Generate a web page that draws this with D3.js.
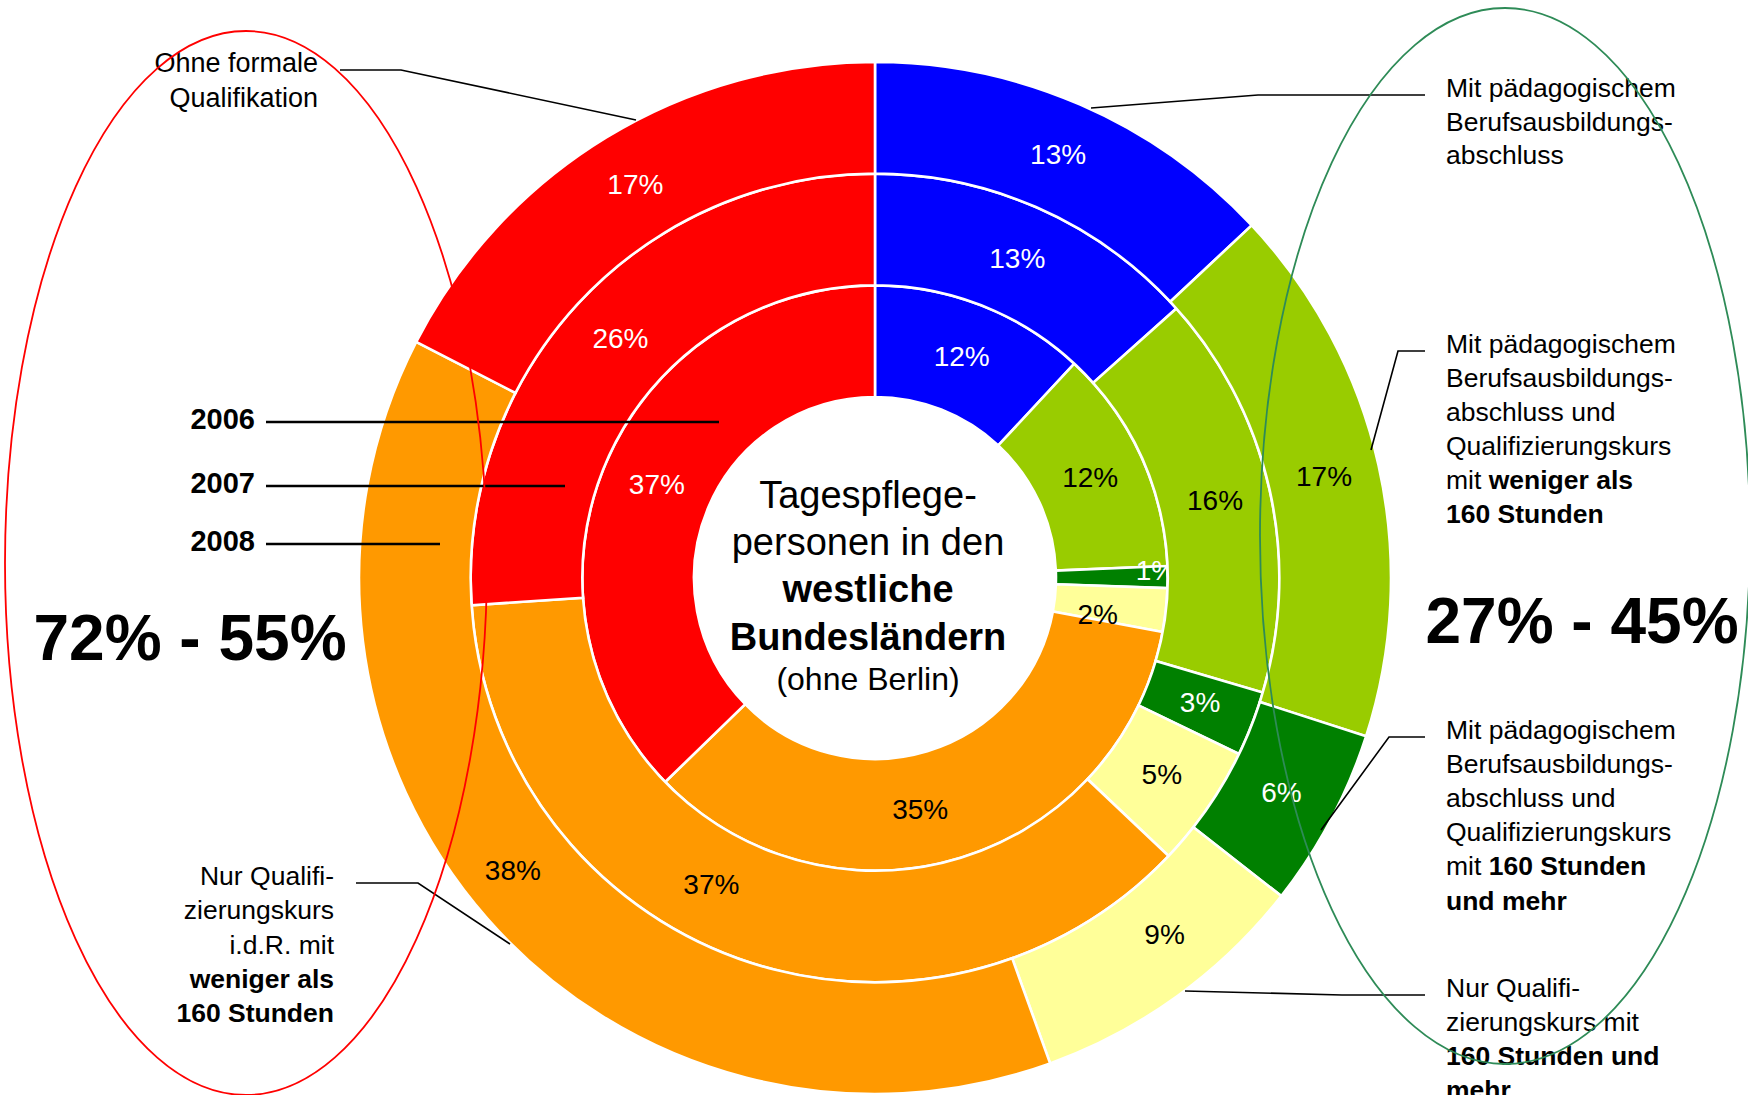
<!DOCTYPE html>
<html><head><meta charset="utf-8">
<script src="https://cdn.jsdelivr.net/npm/d3@7"></script>
<style>
body{margin:0;background:#fff}
svg{display:block}
text{font-family:"Liberation Sans",Arial,Helvetica,sans-serif}
</style>
</head><body>
<svg id="chart" width="1748" height="1095"></svg>
<script>
// ---------- data ----------
const years = ["2006", "2007", "2008"];              // inner → outer ring
const categories = [
  "Mit pädagogischem Berufsausbildungsabschluss",
  "Mit pädagogischem Berufsausbildungsabschluss und Qualifizierungskurs mit weniger als 160 Stunden",
  "Mit pädagogischem Berufsausbildungsabschluss und Qualifizierungskurs mit 160 Stunden und mehr",
  "Nur Qualifizierungskurs mit 160 Stunden und mehr",
  "Nur Qualifizierungskurs i.d.R. mit weniger als 160 Stunden",
  "Ohne formale Qualifikation"
];
const values2006 = [11.9, 12.4, 1.2, 2.4, 34.7, 37.2];
const values2007 = [13.4, 16.2, 2.6, 4.9, 36.9, 26.1];
const values2008 = [13.0, 16.9, 5.6, 8.9, 38.0, 17.4];
const rangeLeft = "72% - 55%";
const rangeRight = "27% - 45%";
const centerLines = [
  [["Tagespflege-", false]],
  [["personen in den", false]],
  [["westliche", true]],
  [["Bundesländern", true]],
  [["(ohne Berlin)", false]]
];

// ---------- styles / layout ----------
const colors = ["#0000FF", "#99CC00", "#008000", "#FFFF99", "#FF9900", "#FF0000"];
const whiteText = [true, false, true, false, false, true];
const W = 1748, H = 1095;
const cx = 875, cy = 578;

const svg = d3.select("#chart");
const ring = d3.scaleLinear().domain([0, years.length]).range([181, 516]);
const color = d3.scaleOrdinal().domain(categories).range(colors);
const pie = d3.pie().sort(null).value(d => d.v);

const seriesByYear = [values2006, values2007, values2008];

// label nudges (angle in degrees, optional radius) – layout only
const nudge = {
  "0-2": {a: 88.6, r: 281},
  "0-3": {a: 99.7, r: 226},
  "0-4": {a: 169},
  "1-4": {a: 208},
  "2-3": {a: 141},
  "2-4": {a: 231, r: 466}
};

const g = svg.append("g").attr("transform", `translate(${cx},${cy})`);

seriesByYear.forEach((vals, yi) => {
  const data = vals.map((v, i) => ({v, i, c: categories[i]}));
  const arcs = pie(data);
  const arc = d3.arc().innerRadius(ring(yi)).outerRadius(ring(yi + 1));
  const rg = g.append("g").attr("class", "ring-" + years[yi]);
  rg.selectAll("path").data(arcs).join("path")
    .attr("d", arc)
    .attr("fill", d => color(d.data.c))
    .attr("stroke", "#fff")
    .attr("stroke-width", 2.6)
    .attr("stroke-linejoin", "miter");
  rg.selectAll("text").data(arcs).join("text")
    .attr("transform", d => {
      const key = yi + "-" + d.data.i;
      let [x, y] = arc.centroid(d);
      if (nudge[key]) {
        const a = nudge[key].a * Math.PI / 180;
        const r = nudge[key].r || (ring(yi) + ring(yi + 1)) / 2;
        x = r * Math.sin(a); y = -r * Math.cos(a);
      }
      return `translate(${x},${y})`;
    })
    .attr("text-anchor", "middle")
    .attr("dy", "0.3em")
    .attr("font-size", 28)
    .attr("fill", d => whiteText[d.data.i] ? "#fff" : "#000")
    .text(d => Math.round(d.data.v) + "%");
});

// ---------- center text ----------
const centerY = [508, 555, 602, 650, 690];
const centerSize = [38, 38, 38, 38, 32];
centerLines.forEach((segs, k) => {
  const t = svg.append("text").attr("x", 868).attr("y", centerY[k])
    .attr("text-anchor", "middle").attr("font-size", centerSize[k]).attr("fill", "#000");
  segs.forEach(([s, b]) => t.append("tspan").attr("font-weight", b ? "bold" : "normal").text(s));
});

// ---------- annotation helpers ----------
function block(x, y0, anchor, lines, size, lh) {
  lines.forEach((segs, k) => {
    const t = svg.append("text").attr("x", x).attr("y", y0 + k * lh)
      .attr("text-anchor", anchor).attr("font-size", size).attr("fill", "#000");
    segs.forEach(([s, b]) => t.append("tspan").attr("font-weight", b ? "bold" : "normal").text(s));
  });
}
const line = d3.line();
function leader(pts, w) {
  svg.append("path").attr("d", line(pts)).attr("fill", "none")
    .attr("stroke", "#000").attr("stroke-width", w || 1.6);
}

// left top
block(318, 72, "end", [[["Ohne formale", false]], [["Qualifikation", false]]], 27, 34.5);
leader([[340, 70], [401, 70], [636, 120]]);

// left bottom
block(334, 885, "end", [
  [["Nur Qualifi-", false]],
  [["zierungskurs", false]],
  [["i.d.R. mit", false]],
  [["weniger als", true]],
  [["160 Stunden", true]]
], 26.5, 34.3);
leader([[356, 883], [418, 883], [510, 944]]);

// right blocks
block(1446, 97, "start", [
  [["Mit pädagogischem", false]],
  [["Berufsausbildungs-", false]],
  [["abschluss", false]]
], 26.5, 33.5);
leader([[1425, 95], [1258, 95], [1091, 108]]);

block(1446, 353, "start", [
  [["Mit pädagogischem", false]],
  [["Berufsausbildungs-", false]],
  [["abschluss und", false]],
  [["Qualifizierungskurs", false]],
  [["mit ", false], ["weniger als", true]],
  [["160 Stunden", true]]
], 26.5, 34);
leader([[1425, 351], [1398, 351], [1371, 450]]);

block(1446, 739, "start", [
  [["Mit pädagogischem", false]],
  [["Berufsausbildungs-", false]],
  [["abschluss und", false]],
  [["Qualifizierungskurs", false]],
  [["mit ", false], ["160 Stunden", true]],
  [["und mehr", true]]
], 26.5, 34.1);
leader([[1425, 737], [1389, 737], [1321, 830]]);

block(1446, 997, "start", [
  [["Nur Qualifi-", false]],
  [["zierungskurs mit", false]],
  [["160 Stunden und", true]],
  [["mehr", true]]
], 26.5, 34);
leader([[1185, 991], [1342, 995], [1425, 995]]);

// years
const yearY = [429, 493, 551];
const yearLineY = [422, 486, 544];
const yearLineEnd = [719, 565, 440];
years.forEach((y, i) => {
  svg.append("text").attr("x", 255).attr("y", yearY[i]).attr("text-anchor", "end")
    .attr("font-size", 29).attr("font-weight", "bold").attr("fill", "#000").text(y);
  leader([[266, yearLineY[i]], [yearLineEnd[i], yearLineY[i]]], 2.6);
});

// big ranges
svg.append("text").attr("x", 190).attr("y", 660).attr("text-anchor", "middle")
  .attr("font-size", 64).attr("font-weight", "bold").text(rangeLeft);
svg.append("text").attr("x", 1582).attr("y", 643).attr("text-anchor", "middle")
  .attr("font-size", 64).attr("font-weight", "bold").text(rangeRight);

// ellipses
svg.append("ellipse").attr("cx", 246).attr("cy", 563).attr("rx", 241).attr("ry", 532)
  .attr("fill", "none").attr("stroke", "#FF0000").attr("stroke-width", 1.8);
svg.append("ellipse").attr("cx", 1505).attr("cy", 536).attr("rx", 245).attr("ry", 528)
  .attr("fill", "none").attr("stroke", "#2E8B57").attr("stroke-width", 1.8);
</script>
</body></html>
